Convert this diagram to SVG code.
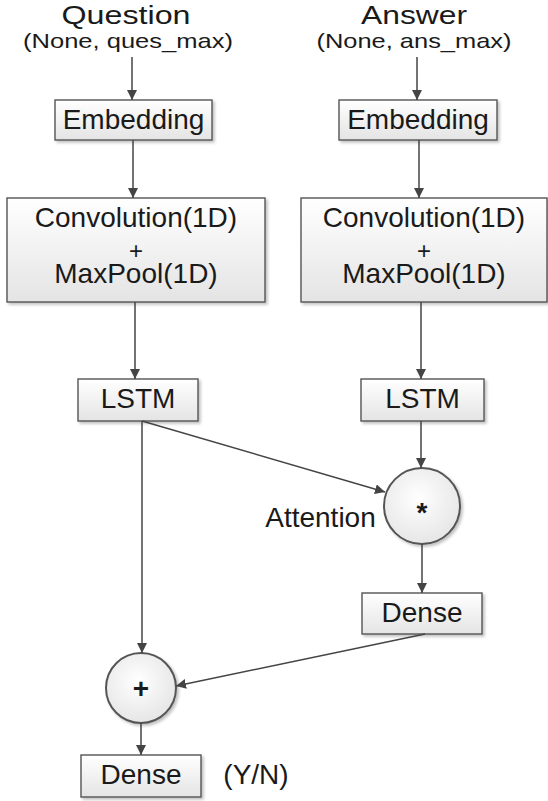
<svg xmlns="http://www.w3.org/2000/svg" width="548" height="801" viewBox="0 0 548 801">
<defs>
<linearGradient id="g" x1="0" y1="0" x2="0" y2="1">
<stop offset="0" stop-color="#ffffff"/>
<stop offset="1" stop-color="#e4e4e4"/>
</linearGradient>
<radialGradient id="rg" cx="0.45" cy="0.4" r="0.6">
<stop offset="0" stop-color="#ffffff"/>
<stop offset="1" stop-color="#e6e6e6"/>
</radialGradient>
<marker id="ah" viewBox="0 0 10 10" refX="10" refY="5" markerWidth="10" markerHeight="10" markerUnits="userSpaceOnUse" orient="auto">
<path d="M0,0 L10,5 L0,10 Z" fill="#444"/>
</marker>
<filter id="sh" x="-10%" y="-10%" width="130%" height="130%">
<feGaussianBlur in="SourceAlpha" stdDeviation="1.5"/>
<feOffset dx="2" dy="2" result="b"/>
<feComponentTransfer><feFuncA type="linear" slope="0.25"/></feComponentTransfer>
<feMerge><feMergeNode/><feMergeNode in="SourceGraphic"/></feMerge>
</filter>
</defs>
<style>
.box{fill:url(#g);stroke:#555;stroke-width:1.4;filter:url(#sh)}
.circ{fill:url(#rg);stroke:#555;stroke-width:2;filter:url(#sh)}
.lbl{font-family:"Liberation Sans",Arial,sans-serif;font-size:28px;fill:#1a1a1a;text-anchor:middle}
.hdr{font-family:"Liberation Sans",Arial,sans-serif;fill:#1a1a1a;text-anchor:middle}
.c{stroke:#444;stroke-width:1.5;fill:none;marker-end:url(#ah)}
</style>
<rect width="548" height="801" fill="#ffffff"/>

<g id="q-input">
<text class="hdr" x="126" y="24" font-size="25" textLength="129" lengthAdjust="spacingAndGlyphs">Question</text>
<text class="hdr" x="128" y="48" font-size="21" textLength="210" lengthAdjust="spacingAndGlyphs">(None, ques_max)</text>
</g>
<g id="a-input">
<text class="hdr" x="414" y="24" font-size="25" textLength="106" lengthAdjust="spacingAndGlyphs">Answer</text>
<text class="hdr" x="414" y="48" font-size="21" textLength="195" lengthAdjust="spacingAndGlyphs">(None, ans_max)</text>
</g>

<g id="q-embedding">
<rect class="box" x="55" y="100" width="157" height="40"/>
<text class="lbl" x="133.5" y="129">Embedding</text>
</g>
<g id="a-embedding">
<rect class="box" x="339" y="100" width="158" height="40"/>
<text class="lbl" x="418" y="129">Embedding</text>
</g>

<g id="q-conv">
<rect class="box" x="7" y="198" width="258" height="104"/>
<text class="lbl"><tspan x="136" y="227">Convolution(1D)</tspan><tspan x="136" y="259" font-size="24">+</tspan><tspan x="136" y="283">MaxPool(1D)</tspan></text>
</g>
<g id="a-conv">
<rect class="box" x="301" y="198" width="246" height="104"/>
<text class="lbl"><tspan x="424" y="227">Convolution(1D)</tspan><tspan x="424" y="259" font-size="24">+</tspan><tspan x="424" y="283">MaxPool(1D)</tspan></text>
</g>

<g id="q-lstm">
<rect class="box" x="78" y="379" width="120" height="42"/>
<text class="lbl" x="138" y="408">LSTM</text>
</g>
<g id="a-lstm">
<rect class="box" x="361" y="379" width="123" height="42"/>
<text class="lbl" x="422.5" y="408">LSTM</text>
</g>

<g id="attention">
<circle class="circ" cx="422" cy="506" r="38"/>
<text class="lbl" x="422" y="522" font-weight="bold">*</text>
<text class="lbl" x="320.5" y="527">Attention</text>
</g>

<g id="a-dense">
<rect class="box" x="362" y="593" width="120" height="41"/>
<text class="lbl" x="422" y="622">Dense</text>
</g>

<g id="add">
<circle class="circ" cx="141" cy="688" r="35"/>
<text class="lbl" x="141" y="698" font-weight="bold">+</text>
</g>

<g id="out-dense">
<rect class="box" x="81" y="755" width="120" height="42"/>
<text class="lbl" x="141" y="784">Dense</text>
<text class="lbl" x="256" y="784">(Y/N)</text>
</g>

<g id="connectors">
<path class="c" d="M132,57 L132,100"/>
<path class="c" d="M417,57 L417,100"/>
<path class="c" d="M133,140 L133,198"/>
<path class="c" d="M419,140 L419,198"/>
<path class="c" d="M135,302 L135,379"/>
<path class="c" d="M421,302 L421,379"/>
<path class="c" d="M142,421 L142,653"/>
<path class="c" d="M142,421 L385,492"/>
<path class="c" d="M421,421 L421,468"/>
<path class="c" d="M422,544 L422,593"/>
<path class="c" d="M425,634 L176,686"/>
<path class="c" d="M141,723 L141,755"/>
</g>
</svg>
